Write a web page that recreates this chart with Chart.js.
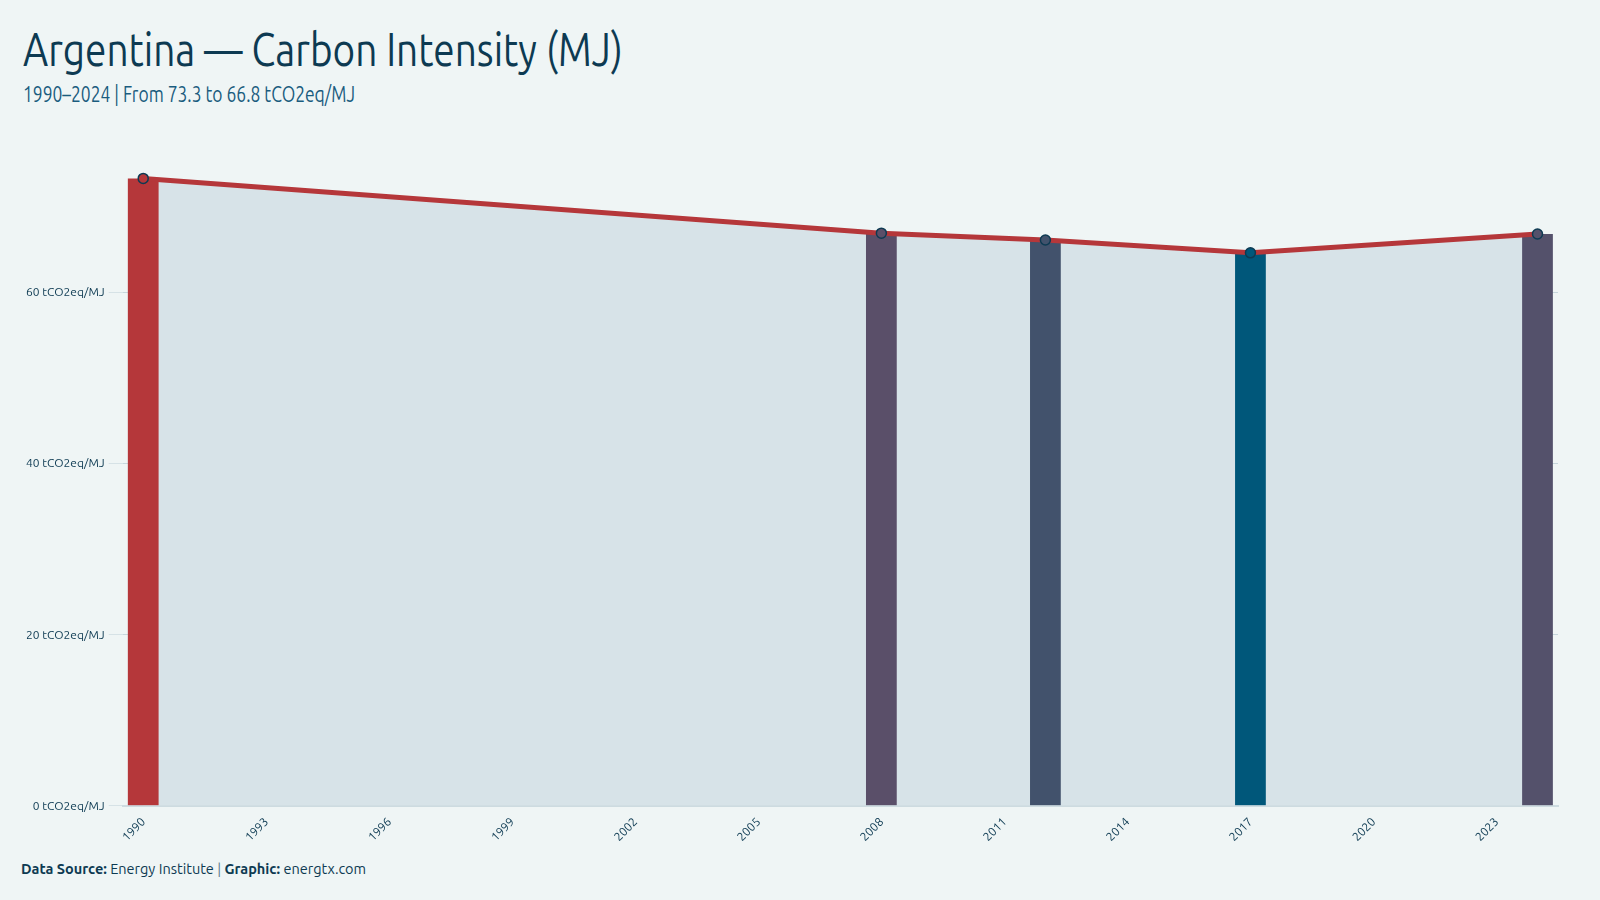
<!DOCTYPE html>
<html>
<head>
<meta charset="utf-8">
<script src="https://cdn.jsdelivr.net/npm/chart.js@4"></script>
<style>
  html, body { margin: 0; padding: 0; background: #eff5f5; }
  body { width: 1600px; height: 900px; position: relative; overflow: hidden; }
  .head { position: absolute; left: 23px; font-family: "Ubuntu Condensed", Ubuntu, sans-serif; white-space: nowrap;
    transform-origin: 0 0; }
  #title { top: 26px; font-size: 46px; line-height: 46px; color: #0d3a52; }
  #subtitle { top: 83px; font-size: 22px; line-height: 22px; color: #1a5c7e; }
  #footer { position: absolute; left: 21px; top: 862px; font-family: Ubuntu, "Noto Sans", sans-serif;
    font-size: 14.5px; line-height: 14.5px; color: #0d3a52; white-space: nowrap; }
  #footer b { font-weight: 700; }
  #footer .sep { color: #5f7d8c; }
  #wrap { position: absolute; left: 0; top: 127px; width: 1600px; height: 726px; }
</style>
</head>
<body>
<div id="title" class="head">Argentina — Carbon Intensity (MJ)</div>
<div id="subtitle" class="head">1990–2024 | From 73.3 to 66.8 tCO2eq/MJ</div>
<div id="wrap"><canvas id="chart"></canvas></div>
<div id="footer"><b>Data Source:</b> Energy Institute <span class="sep">|</span> <b>Graphic:</b> energtx.com</div>
<script>
const firstYear = 1990;
const lastYear = 2024;
const dataYears = [1990, 2008, 2012, 2017, 2024];
const intensity = [73.3, 66.9, 66.1, 64.6, 66.8];
const barColors = ['#b5373a', '#5a4f69', '#42526c', '#00577a', '#54516b'];
const yTicks = [0, 20, 40, 60];

// squeeze the regular Ubuntu face to the width of the condensed headline
function fitWidth(id, target) {
  const el = document.getElementById(id);
  const w = el.getBoundingClientRect().width;
  if (w > target) el.style.transform = 'scaleX(' + (target / w) + ')';
}
fitWidth('title', 600);
fitWidth('subtitle', 332);

const labels = [];
for (let y = firstYear; y <= lastYear; y++) labels.push(String(y));

const values = labels.map(l => {
  const i = dataYears.indexOf(parseInt(l));
  return i >= 0 ? intensity[i] : null;
});
const colors = labels.map(l => {
  const i = dataYears.indexOf(parseInt(l));
  return i >= 0 ? barColors[i] : 'rgba(0,0,0,0)';
});

const ctx = document.getElementById('chart').getContext('2d');
new Chart(ctx, {
  data: {
    labels,
    datasets: [
      {
        type: 'line',
        label: 'Carbon intensity',
        data: values,
        order: 0,
        borderColor: '#b5373a',
        borderWidth: 5,
        backgroundColor: '#d7e3e8',
        fill: 'origin',
        spanGaps: true,
        tension: 0,
        pointRadius: 5,
        pointHoverRadius: 5,
        pointBackgroundColor: colors,
        pointBorderColor: '#0d3a52',
        pointBorderWidth: 1.5
      },
      {
        type: 'bar',
        label: 'Bars',
        data: values,
        order: 1,
        backgroundColor: colors,
        barPercentage: 0.75,
        categoryPercentage: 1.0
      }
    ]
  },
  options: {
    responsive: true,
    maintainAspectRatio: false,
    animation: false,
    layout: { padding: { left: 22, right: 42, top: 10, bottom: 0 } },
    plugins: {
      legend: { display: false },
      tooltip: { enabled: false },
      filler: { drawTime: 'beforeDatasetsDraw' }
    },
    scales: {
      x: {
        offset: true,
        grid: { display: false, drawTicks: false },
        border: { display: true, color: '#cddbe0', width: 2 },
        ticks: {
          autoSkip: false,
          maxRotation: 45,
          minRotation: 45,
          padding: 9,
          color: '#0d3a52',
          font: { family: 'Ubuntu, "Noto Sans", sans-serif', size: 12 },
          callback: function (v, i) { return (i % 3 === 0) ? this.getLabelForValue(v) : ''; }
        }
      },
      y: {
        min: 0,
        max: 78,
        afterBuildTicks: axis => { axis.ticks = yTicks.map(v => ({ value: v })); },
        grid: { color: '#c6d6dc', lineWidth: 1, tickLength: 14, tickColor: '#d6e2e6' },
        border: { display: false },
        ticks: {
          padding: 4,
          color: '#0d3a52',
          font: { family: 'Ubuntu, "Noto Sans", sans-serif', size: 12 },
          callback: v => v + ' tCO2eq/MJ'
        }
      }
    }
  }
});
</script>
</body>
</html>
